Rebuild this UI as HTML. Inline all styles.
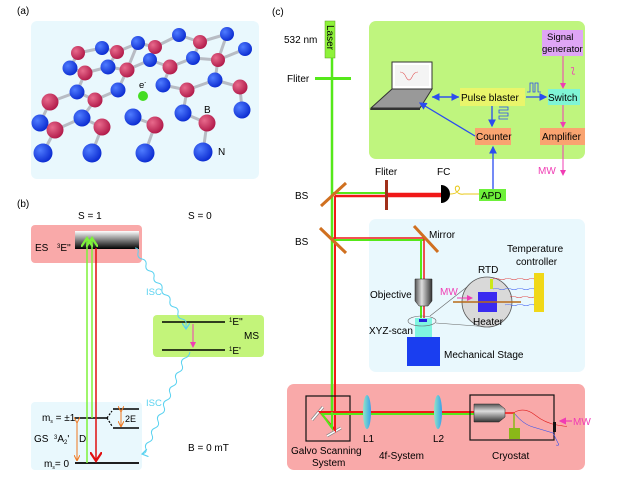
<!DOCTYPE html>
<html><head><meta charset="utf-8">
<style>
html,body{margin:0;padding:0;background:#fff;}
svg{display:block;font-family:"Liberation Sans",Arial,sans-serif;}
</style></head>
<body>
<svg id="s" width="623" height="488" viewBox="0 0 623 488" xmlns="http://www.w3.org/2000/svg">
<defs>
<linearGradient id="es" x1="0" y1="0" x2="0" y2="1"><stop offset="0" stop-color="#fff"/><stop offset="1" stop-color="#000"/></linearGradient>
<linearGradient id="obj" x1="0" y1="0" x2="1" y2="0"><stop offset="0" stop-color="#555"/><stop offset="0.4" stop-color="#ddd"/><stop offset="1" stop-color="#333"/></linearGradient>
<linearGradient id="objh" x1="0" y1="0" x2="0" y2="1"><stop offset="0" stop-color="#555"/><stop offset="0.4" stop-color="#ddd"/><stop offset="1" stop-color="#333"/></linearGradient>
<radialGradient id="bl" cx="0.35" cy="0.35" r="0.7"><stop offset="0" stop-color="#4f7cff"/><stop offset="1" stop-color="#0a2ad0"/></radialGradient>
<radialGradient id="rd" cx="0.35" cy="0.35" r="0.7"><stop offset="0" stop-color="#e86a8c"/><stop offset="1" stop-color="#b01848"/></radialGradient>
<linearGradient id="lens" x1="0" y1="0" x2="1" y2="0"><stop offset="0" stop-color="#8fe6c8"/><stop offset="1" stop-color="#3aa0e8"/></linearGradient>
<marker id="ab" markerWidth="6" markerHeight="6" refX="5" refY="3" orient="auto"><path d="M0,0 L6,3 L0,6 z" fill="#2a4cf0"/></marker>
<marker id="ap" markerWidth="6" markerHeight="6" refX="5" refY="3" orient="auto"><path d="M0,0 L6,3 L0,6 z" fill="#f03cb4"/></marker>
<marker id="ao" markerWidth="6" markerHeight="6" refX="5" refY="3" orient="auto"><path d="M0,0 L6,3 L0,6" fill="none" stroke="#f07820" stroke-width="1"/></marker>
<marker id="ag" markerWidth="8" markerHeight="8" refX="6" refY="4" orient="auto"><path d="M0,0 L6,4 L0,8" fill="none" stroke="#7ef23a" stroke-width="1.5"/></marker>
<marker id="ar" markerWidth="8" markerHeight="8" refX="6" refY="4" orient="auto"><path d="M0,0 L6,4 L0,8" fill="none" stroke="#e01010" stroke-width="1.5"/></marker>
<marker id="ac" markerWidth="8" markerHeight="8" refX="6" refY="4" orient="auto"><path d="M0,0 L6,4 L0,8" fill="none" stroke="#5ad2f0" stroke-width="1.2"/></marker>
</defs>

<!-- (a) -->
<text x="17" y="14" font-size="10">(a)</text>
<rect x="31" y="21" width="228" height="158" rx="6" fill="#e9f8fd"/>
<g id="bonds" stroke="#b8bcc4" stroke-width="3" stroke-linecap="round"></g>
<g id="atoms"></g>
<circle cx="143" cy="96" r="5" fill="#44dd22"/>
<text x="139" y="88" font-size="9.5">e<tspan font-size="6" dy="-4">-</tspan></text>
<text x="204" y="113" font-size="10">B</text>
<text x="218" y="155" font-size="10">N</text>

<!-- (b) -->
<text x="17" y="207" font-size="10">(b)</text>
<text x="78" y="219" font-size="10">S = 1</text>
<text x="188" y="219" font-size="10">S = 0</text>
<rect x="31" y="225" width="111" height="38" rx="4" fill="#f9a9a9"/>
<rect x="75" y="231" width="64" height="18" fill="url(#es)"/>
<text x="35" y="251" font-size="10">ES</text>
<text x="57" y="251" font-size="10"><tspan font-size="6" dy="-3">3</tspan><tspan dy="3">E''</tspan></text>
<rect x="153" y="315" width="111" height="42" rx="4" fill="#c3f47a"/>
<line x1="162" y1="322" x2="225" y2="322" stroke="#000" stroke-width="1.5"/>
<line x1="162" y1="350" x2="225" y2="350" stroke="#000" stroke-width="1.5"/>
<line x1="193" y1="324" x2="193" y2="347" stroke="#f03cb4" stroke-width="1" marker-end="url(#ap)"/>
<text x="229" y="325" font-size="10"><tspan font-size="6" dy="-3">1</tspan><tspan dy="3">E''</tspan></text>
<text x="244" y="339" font-size="10">MS</text>
<text x="229" y="354" font-size="10"><tspan font-size="6" dy="-3">1</tspan><tspan dy="3">E'</tspan></text>
<rect x="31" y="402" width="111" height="68" rx="4" fill="#e9f8fd"/>
<line x1="75" y1="418" x2="107" y2="418" stroke="#000" stroke-width="1.5"/>
<line x1="75" y1="463" x2="139" y2="463" stroke="#000" stroke-width="1.8"/>
<line x1="113" y1="409" x2="139" y2="409" stroke="#000" stroke-width="1.5"/>
<line x1="113" y1="428" x2="139" y2="428" stroke="#000" stroke-width="1.5"/>
<path d="M107,418 L112,411 M107,418 L112,426" stroke="#000" stroke-width="1.2" stroke-dasharray="2,1.5"/>
<line x1="121" y1="411" x2="121" y2="426" stroke="#f07820" stroke-width="1" marker-end="url(#ao)" marker-start="url(#ao)"/>
<line x1="77" y1="422" x2="77" y2="460" stroke="#f07820" stroke-width="1" marker-end="url(#ao)" marker-start="url(#ao)"/>
<text x="125" y="422" font-size="9">2E</text>
<text x="42" y="421" font-size="10">m<tspan font-size="5" dy="2">s</tspan><tspan dy="-2"> = ±1</tspan></text>
<text x="34" y="442" font-size="10">GS</text>
<text x="54" y="442" font-size="10"><tspan font-size="6" dy="-3">3</tspan><tspan dy="3">A</tspan><tspan font-size="6" dy="2">2</tspan><tspan dy="-2">'</tspan></text>
<text x="79" y="442" font-size="10">D</text>
<text x="44" y="467" font-size="10">m<tspan font-size="5" dy="2">s</tspan><tspan dy="-2">= 0</tspan></text>
<text x="188" y="451" font-size="10">B = 0 mT</text>
<line x1="87" y1="463" x2="87" y2="238" stroke="#7ef23a" stroke-width="1.5" marker-end="url(#ag)"/>
<line x1="92" y1="418" x2="92" y2="238" stroke="#7ef23a" stroke-width="1.5" marker-end="url(#ag)"/>
<line x1="96" y1="248" x2="96" y2="461" stroke="#e01010" stroke-width="1.5" marker-end="url(#ar)"/>
<path d="M135,248 q4,0 3,5 q-1,5 4,6 q5,1 4,6 q-1,5 4,6 q5,1 4,6 q-1,5 4,6 q5,1 4,6 q-1,5 4,6 q5,1 4,6 q-1,5 4,6 q5,1 4,6 q-1,5 4,6 q5,1 4,6 l0,4" fill="none" stroke="#5ad2f0" stroke-width="1" marker-end="url(#ac)"/>
<text x="146" y="295" font-size="9.5" fill="#5ad2f0">ISC</text>
<path d="M190,352 q-1,5 -5,6 q-5,2 -3,7 q2,5 -3,7 q-5,2 -3,7 q2,5 -3,7 q-5,2 -3,7 q2,5 -3,7 q-5,2 -3,7 q2,5 -3,7 q-5,2 -3,7 q2,5 -3,7 q-5,2 -3,7 q2,5 -3,7 q-5,2 -3,7 q1,4 -4,5" fill="none" stroke="#5ad2f0" stroke-width="1" marker-end="url(#ac)"/>
<text x="146" y="406" font-size="9.5" fill="#5ad2f0">ISC</text>

<!-- (c) -->
<text x="272" y="15" font-size="10">(c)</text>
<rect x="369" y="21" width="216" height="138" rx="7" fill="#bff57e"/>
<rect x="369" y="219" width="216" height="153" rx="7" fill="#e9f8fd"/>
<rect x="287" y="384" width="298" height="86" rx="7" fill="#f9a9a9"/>

<rect x="325" y="21" width="10" height="37" fill="#8ef23a" stroke="#5a9a20" stroke-width="0.5"/>
<text transform="translate(327,25) rotate(90)" font-size="10">Laser</text>
<text x="284" y="43" font-size="10">532 nm</text>
<text x="287" y="82" font-size="10">Fliter</text>
<text x="295" y="199" font-size="10">BS</text>
<text x="295" y="245" font-size="10">BS</text>
<text x="375" y="175" font-size="10">Fliter</text>
<text x="437" y="175" font-size="10">FC</text>

<!-- beams -->
<line x1="332" y1="58" x2="332" y2="412" stroke="#55e81a" stroke-width="2.5"/>
<line x1="335" y1="196" x2="335" y2="412" stroke="#f01818" stroke-width="2"/>
<rect x="315" y="77" width="36" height="3" fill="#55e81a"/>
<line x1="332" y1="193" x2="386" y2="193" stroke="#55e81a" stroke-width="2"/>
<line x1="335" y1="196" x2="441" y2="196" stroke="#f01818" stroke-width="2.5"/>
<line x1="386" y1="194" x2="441" y2="194" stroke="#f01818" stroke-width="2.5"/>
<rect x="385" y="180" width="3" height="30" fill="#a0301a"/>
<line x1="321" y1="206" x2="346" y2="183" stroke="#d07020" stroke-width="3"/>
<path d="M441,185 a9,9 0 0 1 0,18 z" fill="#000"/>
<path d="M450,194 q6,0 8,-3 q3,-3 0,-5 q-4,0 -2,5 q3,4 8,3 l15,0" fill="none" stroke="#e8c818" stroke-width="1"/>
<rect x="479" y="189" width="27" height="12" fill="#6df03a"/>
<text x="481" y="199" font-size="10">APD</text>

<line x1="333" y1="240" x2="424" y2="240" stroke="#55e81a" stroke-width="2"/>
<line x1="333" y1="238" x2="424" y2="238" stroke="#f01818" stroke-width="1.5"/>
<line x1="421" y1="240" x2="421" y2="320" stroke="#55e81a" stroke-width="2"/>
<line x1="424" y1="238" x2="424" y2="320" stroke="#f01818" stroke-width="1.5"/>
<line x1="320" y1="228" x2="346" y2="253" stroke="#d07020" stroke-width="3"/>
<line x1="414" y1="226" x2="438" y2="252" stroke="#d07020" stroke-width="3"/>
<text x="429" y="238" font-size="10">Mirror</text>

<!-- blue box content -->
<path d="M415,279 h17 v22 l-4,5 h-9 l-4,-5 z" fill="url(#obj)" stroke="#222" stroke-width="0.5"/>
<text x="370" y="298" font-size="10">Objective</text>
<rect x="415" y="318" width="17" height="19" fill="#80f5e0"/>
<rect x="419" y="319" width="8" height="3" fill="#2222dd"/>
<ellipse cx="422" cy="321" rx="14" ry="5" fill="none" stroke="#666" stroke-width="0.6"/>
<text x="369" y="334" font-size="10">XYZ-scan</text>
<rect x="407" y="337" width="33" height="29" fill="#1a3ef0"/>
<text x="444" y="358" font-size="10">Mechanical Stage</text>
<line x1="430" y1="316" x2="472" y2="283" stroke="#666" stroke-width="0.6"/>
<line x1="436" y1="323" x2="490" y2="327" stroke="#666" stroke-width="0.6"/>
<circle cx="487" cy="302" r="25" fill="#d9d9d9" stroke="#555" stroke-width="0.8"/>
<rect x="478" y="292" width="19" height="20" fill="#3a2af0"/>
<line x1="453" y1="302" x2="521" y2="302" stroke="#b86a18" stroke-width="1.5"/>
<rect x="490" y="279" width="3" height="10" fill="#cce818"/>
<text x="478" y="273" font-size="10">RTD</text>
<text x="473" y="325" font-size="10">Heater</text>
<text x="440" y="295" font-size="10" fill="#f03cb4">MW</text>
<line x1="457" y1="298" x2="472" y2="298" stroke="#f03cb4" stroke-width="1" marker-end="url(#ap)"/>
<rect x="534" y="273" width="10" height="39" fill="#f0d818"/>
<text x="507" y="252" font-size="10">Temperature</text>
<text x="516" y="265" font-size="10">controller</text>
<path d="M493,279 q3,-1.5 6,0 t6,0 t6,0 t6,0 t6,0 t6,0 t5,0" fill="none" stroke="#e04040" stroke-width="0.6"/>
<path d="M493,289 q3,-1.5 6,0 t6,0 t6,0 t6,0 t6,0 t6,0 t5,0" fill="none" stroke="#4060f0" stroke-width="0.6"/>
<path d="M510,297 q3,-1.5 6,0 t6,0 t6,0 t6,0" fill="none" stroke="#e04040" stroke-width="0.6"/>
<path d="M505,305 q3,-1.5 6,0 t6,0 t6,0 t6,0 t5,0" fill="none" stroke="#4060f0" stroke-width="0.6"/>

<!-- green box content -->
<path d="M392,62 h40 v27 h-40 z" fill="#fff" stroke="#333" stroke-width="1"/>
<path d="M395,65 h34 v21 h-34 z" fill="#f4f4f4"/>
<path d="M400,72 q4,0 6,5 q3,6 6,0 q2,-5 6,-5" fill="none" stroke="#e05050" stroke-width="0.6"/>
<path d="M392,89 h40 l-12,19 h-49 z" fill="#999" stroke="#333" stroke-width="1"/>
<path d="M371,108 h49 v2 h-50 z" fill="#333"/>
<rect x="460" y="88" width="65" height="18" fill="#e9f56b"/>
<text x="461" y="101" font-size="10">Pulse blaster</text>
<rect x="548" y="89" width="32" height="16" fill="#7ff5d5"/>
<text x="548" y="101" font-size="10">Switch</text>
<rect x="542" y="30" width="41" height="26" fill="#dfa5f5"/>
<text x="547" y="40" font-size="9.5">Signal</text>
<text x="542" y="52" font-size="9.5">generator</text>
<rect x="540" y="128" width="45" height="17" fill="#f9a470"/>
<text x="542" y="140" font-size="10">Amplifier</text>
<rect x="475" y="128" width="36" height="17" fill="#f9a470"/>
<text x="476" y="140" font-size="10">Counter</text>
<line x1="432" y1="97" x2="458" y2="97" stroke="#2a4cf0" stroke-width="1.3" marker-end="url(#ab)"/>
<line x1="459" y1="97" x2="433" y2="97" stroke="#2a4cf0" stroke-width="1.3" marker-end="url(#ab)"/>
<line x1="475" y1="136" x2="420" y2="103" stroke="#2a4cf0" stroke-width="1.3" marker-end="url(#ab)"/>
<line x1="526" y1="97" x2="546" y2="97" stroke="#2a4cf0" stroke-width="1.3" marker-end="url(#ab)"/>
<line x1="492" y1="106" x2="492" y2="126" stroke="#2a4cf0" stroke-width="1.3" marker-end="url(#ab)"/>
<line x1="493" y1="189" x2="493" y2="147" stroke="#2a4cf0" stroke-width="1.3" marker-end="url(#ab)"/>
<path d="M527,92 h3 v-9 h3 v9 h2 v-9 h3 v9 h3" fill="none" stroke="#2a4cf0" stroke-width="0.8"/>
<path d="M499,107 h9 v3 h-9 v3 h9 v3 h-9 v3 h9" fill="none" stroke="#2a4cf0" stroke-width="0.8"/>
<line x1="563" y1="56" x2="563" y2="88" stroke="#f03cb4" stroke-width="1" marker-end="url(#ap)"/>
<line x1="563" y1="105" x2="563" y2="127" stroke="#f03cb4" stroke-width="1" marker-end="url(#ap)"/>
<line x1="563" y1="145" x2="563" y2="175" stroke="#f03cb4" stroke-width="1" marker-end="url(#ap)"/>
<path d="M571,68 q4,-2 2,3 q-2,4 2,3" fill="none" stroke="#f03cb4" stroke-width="0.8"/>
<text x="538" y="174" font-size="10" fill="#f03cb4">MW</text>

<!-- red box content -->
<rect x="306" y="396" width="44" height="45" fill="none" stroke="#111" stroke-width="1.2"/>
<line x1="312" y1="420" x2="323" y2="407" stroke="#888" stroke-width="3"/>
<line x1="312" y1="420" x2="323" y2="407" stroke="#fff" stroke-width="1.5"/>
<line x1="327" y1="436" x2="341" y2="428" stroke="#888" stroke-width="3"/>
<line x1="327" y1="436" x2="341" y2="428" stroke="#fff" stroke-width="1.5"/>
<polyline points="335,412 335,430 320,412 474,412" fill="none" stroke="#f01818" stroke-width="2"/>
<polyline points="332,412 332,428 322,414 474,414" fill="none" stroke="#55e81a" stroke-width="2"/>
<ellipse cx="367" cy="412" rx="4" ry="17" fill="url(#lens)"/>
<ellipse cx="438" cy="412" rx="4" ry="17" fill="url(#lens)"/>
<rect x="470" y="395" width="84" height="45" fill="none" stroke="#111" stroke-width="1.2"/>
<path d="M474,404 h25 l6,5 v8 l-6,5 h-25 z" fill="url(#objh)" stroke="#222" stroke-width="0.5"/>
<line x1="505" y1="413" x2="515" y2="413" stroke="#f01818" stroke-width="1.5"/>
<line x1="514" y1="413" x2="514" y2="428" stroke="#8ab818" stroke-width="1.5"/>
<rect x="509" y="428" width="11" height="11" fill="#8ab818"/>
<path d="M515,412 q10,-5 20,3 t22,10 t9,1" fill="none" stroke="#e02020" stroke-width="0.6"/>
<path d="M515,414 q8,10 18,13 t20,6 l5,10 q2,3 -2,2" fill="none" stroke="#3050f0" stroke-width="0.6"/>
<rect x="553" y="422" width="3" height="10" fill="#111"/>
<line x1="572" y1="421" x2="560" y2="421" stroke="#f03cb4" stroke-width="1.2" marker-end="url(#ap)"/>
<text x="573" y="425" font-size="10" fill="#f03cb4">MW</text>
<text x="363" y="442" font-size="10">L1</text>
<text x="433" y="442" font-size="10">L2</text>
<text x="291" y="454" font-size="10">Galvo Scanning</text>
<text x="312" y="466" font-size="10">System</text>
<text x="379" y="459" font-size="10">4f-System</text>
<text x="492" y="459" font-size="10">Cryostat</text>
</svg>
<script>
var B=[[179,35],[227,34],[245,49],[102,48],[138,43],[70,68],[108,67],[150,60],[193,58],[215,80],[163,85],[118,90],[77,92],[242,110],[183,113],[133,117],[82,118],[40,123],[43,153],[92,153],[145,153],[203,152]];
var R=[[200,42],[155,47],[117,52],[78,53],[218,60],[170,67],[127,70],[85,73],[240,87],[187,90],[95,100],[50,102],[207,123],[155,125],[102,127],[55,130]];
var ns="http://www.w3.org/2000/svg",bg=document.getElementById("bonds"),ag=document.getElementById("atoms");
B.forEach(function(b){R.forEach(function(r){var d=Math.hypot(b[0]-r[0],b[1]-r[1]);if(d<30){var l=document.createElementNS(ns,"line");l.setAttribute("x1",b[0]);l.setAttribute("y1",b[1]);l.setAttribute("x2",r[0]);l.setAttribute("y2",r[1]);bg.appendChild(l);}});});
var all=B.map(function(p){return [p,"url(#bl)"]}).concat(R.map(function(p){return [p,"url(#rd)"]}));
all.sort(function(a,b){return a[0][1]-b[0][1]});
all.forEach(function(a){var y=a[0][1];var c=document.createElementNS(ns,"circle");c.setAttribute("cx",a[0][0]);c.setAttribute("cy",y);c.setAttribute("r",y>140?9.5:(y>100?8.5:(y>60?7.5:7)));c.setAttribute("fill",a[1]);ag.appendChild(c);});
</script>
</body></html>
